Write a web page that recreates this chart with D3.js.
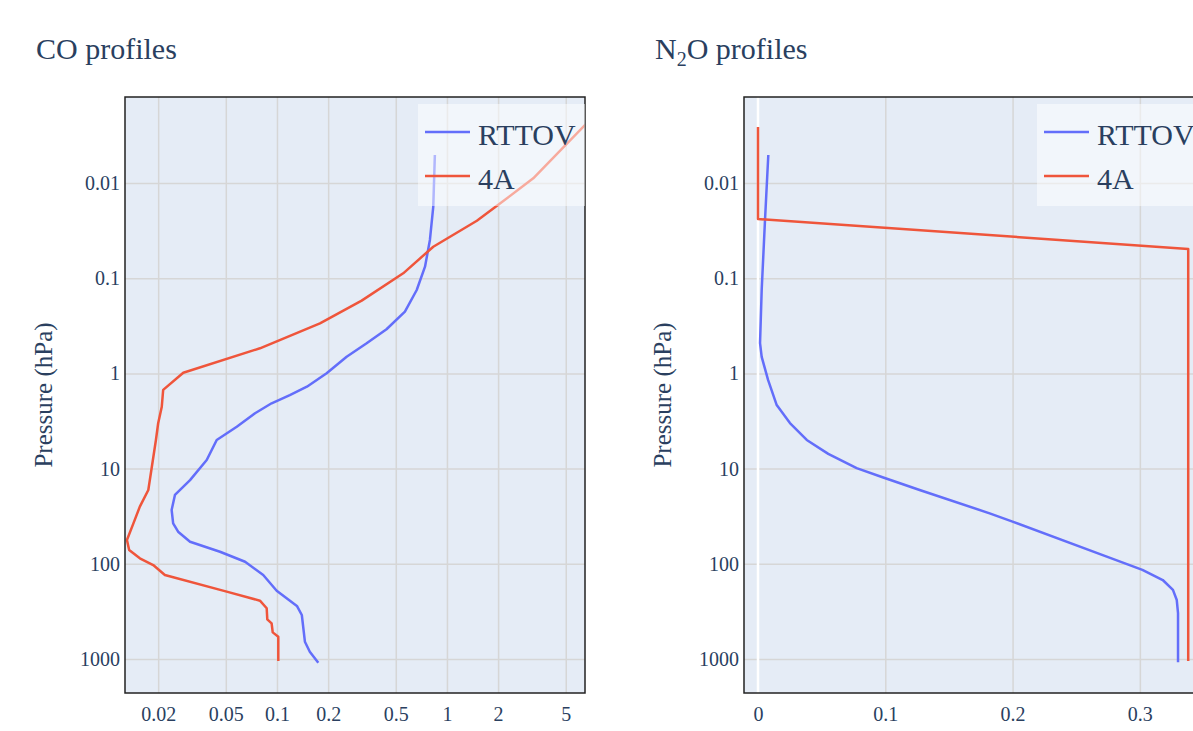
<!DOCTYPE html>
<html>
<head>
<meta charset="utf-8">
<script src="https://cdn.jsdelivr.net/npm/d3@7"></script>
<style>
  body { margin: 0; background: #fff; }
  svg text { font-family: "Liberation Serif", "Times New Roman", serif; fill: #2a3f5f; }
</style>
</head>
<body>
<div id="canvas"></div>
<script>
// ---- data (values in ppmv, pressure in hPa) ----
const seriesNames = ["RTTOV", "4A"];
const seriesColors = ["#636efa", "#ef553b"];

const coRttovVal = [0.849, 0.831, 0.794, 0.743, 0.664, 0.566, 0.441, 0.337, 0.257, 0.196, 0.150, 0.119, 0.093, 0.0743, 0.058, 0.0442, 0.0386, 0.0308, 0.0251, 0.0240, 0.0245, 0.0262, 0.0308, 0.0462, 0.0649, 0.083, 0.0996, 0.131, 0.140, 0.146, 0.156, 0.175];
const coRttovP   = [0.00508, 0.0177, 0.0397, 0.0757, 0.133, 0.225, 0.344, 0.483, 0.668, 0.998, 1.38, 1.69, 2.06, 2.62, 3.63, 5.01, 8.13, 13.2, 18.9, 27.2, 37.6, 46.0, 58.6, 74.7, 95.1, 131, 192, 277, 345, 658, 838, 1094];

const co4aVal = [8.5, 3.22, 1.96, 1.50, 0.831, 0.553, 0.315, 0.179, 0.0794, 0.0281, 0.0214, 0.0210, 0.0200, 0.0194, 0.0175, 0.0156, 0.0143, 0.0131, 0.0135, 0.0156, 0.0187, 0.0219, 0.0506, 0.0794, 0.0870, 0.0877, 0.093, 0.0944, 0.1018, 0.1018];
const co4aP   = [0.0015, 0.00893, 0.0175, 0.0249, 0.0467, 0.0889, 0.172, 0.298, 0.545, 0.984, 1.49, 2.24, 3.34, 5.01, 16.8, 25.1, 37.6, 56.2, 71.6, 87.5, 103, 131, 196, 244, 293, 383, 422, 525, 583, 1050];

const n2oRttovVal = [0.0081, 0.0055, 0.0029, 0.0016, 0.0029, 0.0079, 0.0147, 0.0251, 0.0383, 0.0552, 0.0775, 0.0984, 0.127, 0.182, 0.200, 0.274, 0.302, 0.318, 0.326, 0.329, 0.330, 0.330];
const n2oRttovP   = [0.00508, 0.0245, 0.133, 0.48, 0.67, 1.17, 2.15, 3.32, 5.0, 7.0, 9.9, 12.4, 16.8, 29.5, 36.1, 84, 116, 148, 188, 240, 329, 1080];

const n2o4aVal = [0, 0, 0.338, 0.338];
const n2o4aP   = [0.00258, 0.0239, 0.0493, 1050];

const pTicks = [0.01, 0.1, 1, 10, 100, 1000];
const coTicks = [0.02, 0.05, 0.1, 0.2, 0.5, 1, 2, 5];
const n2oTicks = [0, 0.1, 0.2, 0.3];

// ---- layout ----
const W = 1193, H = 731;
const plotTop = 97, plotBottom = 693;
const panels = [
  { id: "co", left: 125, right: 585, title: "CO", sub: "", series: [[coRttovVal, coRttovP], [co4aVal, co4aP]], ticks: coTicks, log: true, domain: [0.01276, 6.49] },
  { id: "n2o", left: 744, right: 1204, title: "N", sub: "2", after: "O", series: [[n2oRttovVal, n2oRttovP], [n2o4aVal, n2o4aP]], ticks: n2oTicks, log: false, domain: [-0.011, 0.3504] }
];

const svg = d3.select("#canvas").append("svg")
  .attr("width", W).attr("height", H)
  .attr("viewBox", [0, 0, W, H]);

const y = d3.scaleLog().domain([0.00125, 2275]).range([plotTop, plotBottom]);

panels.forEach((pn, k) => {
  const x = (pn.log ? d3.scaleLog() : d3.scaleLinear()).domain(pn.domain).range([pn.left, pn.right]);
  const g = svg.append("g");

  g.append("rect")
    .attr("x", pn.left).attr("y", plotTop)
    .attr("width", pn.right - pn.left).attr("height", plotBottom - plotTop)
    .attr("fill", "#e5ecf6");

  // grid
  g.append("g").call(d3.axisBottom(x).tickValues(pn.ticks.filter(t => t !== 0)).tickSize(plotBottom - plotTop).tickFormat(""))
    .attr("transform", `translate(0,${plotTop})`)
    .call(a => a.select(".domain").remove())
    .selectAll("line").attr("stroke", "#d6d6d6").attr("stroke-width", 1.5);
  g.append("g").call(d3.axisRight(y).tickValues(pTicks).tickSize(pn.right - pn.left).tickFormat(""))
    .attr("transform", `translate(${pn.left},0)`)
    .call(a => a.select(".domain").remove())
    .selectAll("line").attr("stroke", "#d6d6d6").attr("stroke-width", 1.5);
  if (!pn.log) {
    g.append("line")
      .attr("x1", x(0)).attr("x2", x(0)).attr("y1", plotTop).attr("y2", plotBottom)
      .attr("stroke", "#fff").attr("stroke-width", 2.5);
  }

  // lines
  const clipId = "clip-" + pn.id;
  svg.append("clipPath").attr("id", clipId).append("rect")
    .attr("x", pn.left).attr("y", plotTop).attr("width", pn.right - pn.left).attr("height", plotBottom - plotTop);
  const line = d3.line().x(d => x(d[0])).y(d => y(d[1]));
  pn.series.forEach((s, i) => {
    const pts = s[0].map((v, j) => [v, s[1][j]]);
    g.append("path").datum(pts)
      .attr("clip-path", `url(#${clipId})`)
      .attr("d", line)
      .attr("fill", "none")
      .attr("stroke", seriesColors[i])
      .attr("stroke-width", 2.5)
      .attr("stroke-linejoin", "round");
  });

  // axes
  const xa = g.append("g").attr("transform", `translate(0,${plotBottom})`)
    .call(d3.axisBottom(x).tickValues(pn.ticks).tickSize(0).tickPadding(14).tickFormat(d => d3.format("~g")(d)));
  xa.select(".domain").remove();
  xa.selectAll("text").attr("font-size", 20).style("font-family", null);
  const ya = g.append("g").attr("transform", `translate(${pn.left},0)`)
    .call(d3.axisLeft(y).tickValues(pTicks).tickSize(0).tickPadding(5).tickFormat(d => d3.format("~g")(d)));
  ya.select(".domain").remove();
  ya.selectAll("text").attr("font-size", 20).style("font-family", null);

  g.append("rect")
    .attr("x", pn.left).attr("y", plotTop)
    .attr("width", pn.right - pn.left).attr("height", plotBottom - plotTop)
    .attr("fill", "none").attr("stroke", "#222").attr("stroke-width", 1.5);

  g.append("text")
    .attr("transform", `translate(${pn.left - 73},${(plotTop + plotBottom) / 2}) rotate(-90)`)
    .attr("text-anchor", "middle").attr("font-size", 25)
    .text("Pressure (hPa)");

  // title
  const t = svg.append("text").attr("x", pn.left - 89).attr("y", 59).attr("font-size", 30);
  t.append("tspan").text(pn.title);
  if (pn.sub) {
    t.append("tspan").attr("font-size", 20).attr("dy", 7).text(pn.sub);
    t.append("tspan").attr("dy", -7).text(pn.after + " profiles");
  } else {
    t.append("tspan").text(" profiles");
  }

  // legend
  const lg = g.append("g").attr("transform", `translate(${pn.left + 293},104)`);
  lg.append("rect").attr("width", pn.right - pn.left - 293).attr("height", 102)
    .attr("fill", "rgba(255,255,255,0.5)");
  seriesNames.forEach((name, i) => {
    const yy = 28 + i * 44;
    lg.append("line").attr("x1", 7).attr("x2", 52).attr("y1", yy).attr("y2", yy)
      .attr("stroke", seriesColors[i]).attr("stroke-width", 2.5);
    lg.append("text").attr("x", 60).attr("y", yy + 13).attr("font-size", 30).text(name);
  });
});
</script>
</body>
</html>
